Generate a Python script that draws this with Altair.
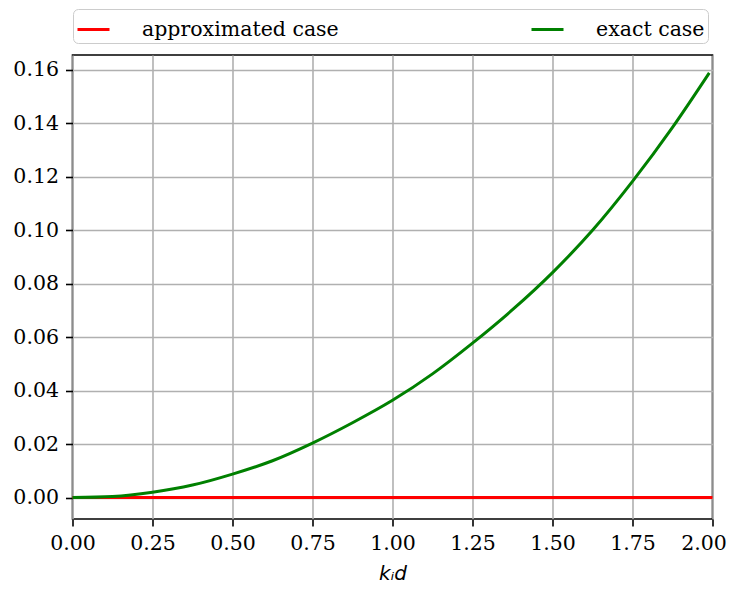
import altair as alt
import pandas as pd

# exact case
x_exact = [0.0, 0.125, 0.25, 0.375, 0.5, 0.625, 0.75, 0.875, 1.0, 1.125, 1.25,
           1.375, 1.5, 1.625, 1.75, 1.875, 1.99]
y_exact = [0.0, 0.0004, 0.0020, 0.0047, 0.0088, 0.0138, 0.0204, 0.0280, 0.0364,
           0.0463, 0.0578, 0.0703, 0.0842, 0.1000, 0.1183, 0.1385, 0.1589]

# approximated case
x_approx = [0.0, 0.5, 1.0, 1.5, 2.0]
y_approx = [0.0, 0.0, 0.0, 0.0, 0.0]

series_names = ["approximated case", "exact case"]
series_colors = ["#ff0000", "#008000"]

x_ticks = [0.0, 0.25, 0.5, 0.75, 1.0, 1.25, 1.5, 1.75, 2.0]
y_ticks = [0.0, 0.02, 0.04, 0.06, 0.08, 0.10, 0.12, 0.14, 0.16]

SERIF = "DejaVu Serif, Liberation Serif, serif"
FS = 20.5

df_approx = pd.DataFrame({"x": x_approx, "y": y_approx, "case": series_names[0]})
df_exact = pd.DataFrame({"x": x_exact, "y": y_exact, "case": series_names[1]})

x_enc = alt.X("x:Q", scale=alt.Scale(domain=[0, 2], nice=False, zero=False),
              axis=alt.Axis(values=x_ticks, format=".2f", title="kᵢd",
                            labelFont=SERIF, labelFontSize=FS,
                            labelFlush=False, labelOverlap=False,
                            labelOffset={"condition": {"test": "datum.value >= 2", "value": -9},
                                         "value": 0},
                            titleFont="DejaVu Sans", titleFontStyle="italic",
                            titleFontWeight="normal", titleFontSize=20,
                            titlePadding=10))
y_enc = alt.Y("y:Q", scale=alt.Scale(domain=[-0.0080, 0.1656], nice=False, zero=False),
              axis=alt.Axis(values=y_ticks, format=".2f", title=None,
                            labelFont=SERIF, labelFontSize=FS,
                            labelFlush=False, labelOverlap=False))
color_enc = alt.Color(
    "case:N",
    scale=alt.Scale(domain=series_names, range=series_colors),
    legend=alt.Legend(
        title=None, orient="none", legendX=0.5, legendY=-46,
        direction="horizontal", columns=2, columnPadding=186,
        symbolType="stroke", symbolSize=1024, symbolStrokeWidth=3,
        labelFont=SERIF, labelFontSize=FS, labelColor="black",
        labelOffset=31, labelLimit=400, padding=3,
        strokeColor="#cccccc", fillColor="white", cornerRadius=5,
    ),
)

approx = alt.Chart(df_approx).mark_line(strokeWidth=3).encode(x=x_enc, y=y_enc, color=color_enc)
exact = alt.Chart(df_exact).mark_line(strokeWidth=3, interpolate="monotone").encode(
    x=x_enc, y=y_enc, color=color_enc)

chart = alt.layer(approx, exact).properties(
    width=640, height=464,
    autosize=alt.AutoSizeParams(type="none"),
    padding={"left": 64.5, "top": 47, "right": 15, "bottom": 68},
).configure(
    font=SERIF
).configure_view(
    stroke="black", strokeWidth=1.6
).configure_axis(
    labelFont=SERIF, labelFontSize=FS, labelColor="black",
    grid=True, gridColor="#b0b0b0", gridWidth=1.6,
    domain=False, ticks=True, tickColor="black", tickWidth=1.6, tickSize=7,
    labelPadding=7, titleColor="black",
)

chart.save("out.html", embed_options={"renderer": "svg", "actions": False})
